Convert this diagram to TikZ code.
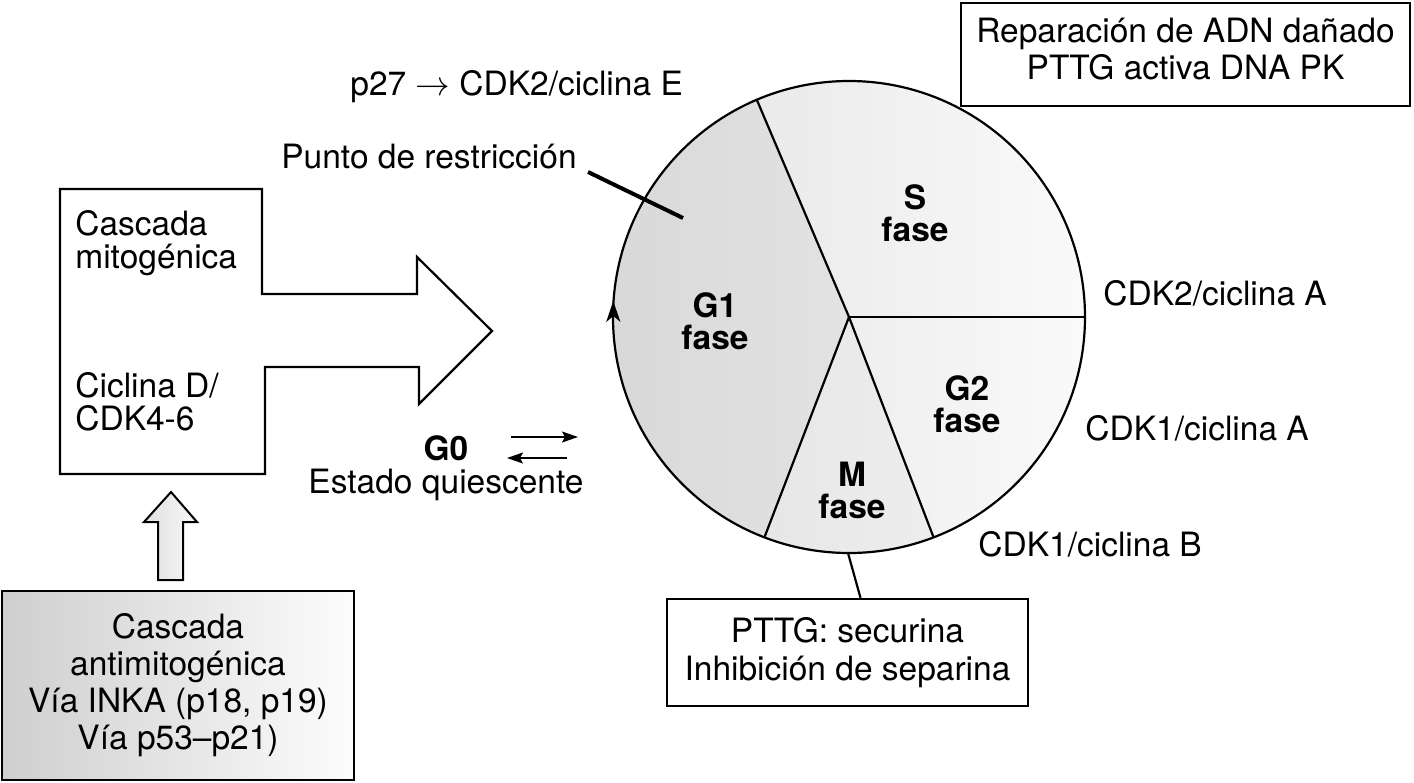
\documentclass[tikz,border=0pt]{standalone}
\usepackage{fontspec}
\setmainfont{TeX Gyre Heros}
\usetikzlibrary{arrows.meta}
\newcommand{\fsReg}{\fontsize{16.75pt}{18.5pt}\selectfont}
\newcommand{\fsTight}{\fontsize{16.75pt}{16.5pt}\selectfont}
\newcommand{\fsPhase}{\fontsize{16.75pt}{16pt}\selectfont\bfseries}
\newcommand{\fsGzero}{\fontsize{16.75pt}{16.5pt}\selectfont}
\begin{document}
\begin{tikzpicture}[x=0.5pt,y=-0.5pt,
  txt/.style={font=\fsReg, inner sep=0pt},
  phase/.style={font=\fsPhase, inner sep=0pt, align=center},
  ln/.style={line width=1.1pt, black},
  boxs/.style={draw, line width=1.1pt, inner sep=0pt},
  lightsec/.style={left color=gray!22, right color=gray!4},
  darksec/.style={left color=gray!30, right color=gray!15},
  smallarrow/.style={line width=0.8pt, -{Stealth[length=8pt,width=5.5pt,inset=1.5pt]}}
  ]
\useasboundingbox (0,0) rectangle (1414,782);

% ---- cycle sectors (fills) ----
\begin{scope}
  \clip (849,317) -- ++(111:236) arc[start angle=111,end angle=246.8,radius=236] -- cycle;
  \shade[darksec] (613,81) rectangle (1085,553);
\end{scope}
\begin{scope}
  \clip (849,317) -- ++(-113.2:236) arc[start angle=-113.2,end angle=0,radius=236] -- cycle;
  \shade[lightsec] (613,81) rectangle (1085,553);
\end{scope}
\begin{scope}
  \clip (849,317) -- ++(0:236) arc[start angle=0,end angle=69.2,radius=236] -- cycle;
  \shade[lightsec] (613,81) rectangle (1085,553);
\end{scope}
\begin{scope}
  \clip (849,317) -- ++(69.2:236) arc[start angle=69.2,end angle=111,radius=236] -- cycle;
  \shade[left color=gray!24, right color=gray!9] (613,81) rectangle (1085,553);
\end{scope}

% ---- cycle outline and dividers ----
\node[draw, circle, line width=1.1pt, minimum size=236pt, inner sep=0pt, outer sep=0pt] (cyc) at (849,317) {};
\draw[ln] (cyc.center) -- (cyc.113.2);
\draw[ln] (cyc.center) -- (cyc.0);
\draw[ln] (cyc.center) -- (cyc.-69.2);
\draw[ln] (cyc.center) -- (cyc.-111);
% direction arrowhead on the cycle
\fill[black] (613.2,301) -- (620.5,322) -- (613.4,316) -- (606.2,322) -- cycle;

% ---- phase labels ----
\node[phase] (sph) at (915,213.5) {S\\fase};
\node[phase] (g1ph) at (715,321) {G1\\fase};
\node[phase] (g2ph) at (967,404.5) {G2\\fase};
\node[phase] (mph) at (852,490.5) {M\\fase};

% ---- restriction point ----
\node[txt, anchor=base east] (rp) at (577,168) {Punto de restricción};
\coordinate (rpA) at (588,172);
\coordinate (rpB) at (683,218);
\draw[line width=2pt] (rpA) -- (rpB);

\node[txt, anchor=base west] (p27) at (350,95) {p27 $\rightarrow$ CDK2/ciclina E};

% ---- top right box ----
\node[boxs, minimum width=224.5pt, minimum height=51.5pt] (rep) at (1185.5,54.5) {};
\node[txt, align=center] (reptxt) at (1185.5,49) {Reparación de ADN dañado\\PTTG activa DNA PK};

% ---- CDK labels ----
\node[txt, anchor=base west] (cdk2a) at (1103,305) {CDK2/ciclina A};
\node[txt, anchor=base west] (cdk1a) at (1085,440) {CDK1/ciclina A};
\node[txt, anchor=base west] (cdk1b) at (978,556) {CDK1/ciclina B};

% ---- PTTG box ----
\node[boxs, minimum width=180.5pt, minimum height=53.5pt, font=\fontsize{16.75pt}{19pt}\selectfont, align=center] (pttg) at (847.5,652.5) {PTTG: securina\\Inhibición de separina};
\draw[ln] ([xshift=-0.5pt]cyc.south) -- ([xshift=6.5pt]pttg.north);

% ---- mitogenic box-arrow ----
\draw[ln, line join=miter] (60,189) -- (262,189) -- (262,294) -- (417,294) -- (417,257) -- (492,331) -- (419,404) -- (419,367) -- (265,367) -- (265,474) -- (60,474) -- cycle;
\node[font=\fsTight, inner sep=0pt, align=left, anchor=west] (mito) at (75,243) {Cascada\\mitogénica};
\node[font=\fsTight, inner sep=0pt, align=left, anchor=west] (cicd) at (75,402) {Ciclina D/\\CDK4-6};

% ---- G0 ----
\node[font=\fsGzero, inner sep=0pt, align=center] (g0) at (446,468.5) {\textbf{G0}\\Estado quiescente};
\coordinate (ga1) at (511,437);
\coordinate (ga2) at (578,437);
\coordinate (gb1) at (567,458);
\coordinate (gb2) at (507,458);
\draw[smallarrow] (ga1) -- (ga2);
\draw[smallarrow] (gb1) -- (gb2);

% ---- up arrow ----
\shadedraw[left color=gray!24, right color=gray!6, draw=black, line width=1pt, line join=miter]
  (158,580) -- (158,522) -- (144,522) -- (171,492) -- (197,522) -- (183,522) -- (183,580) -- cycle;

% ---- antimitogenic box ----
\node[boxs, minimum width=176pt, minimum height=94.5pt, left color=gray!38, right color=gray!2, font=\fsReg, align=center] (anti) at (178,685.5)
  {Cascada\\antimitogénica\\Vía INKA (p18, p19)\\Vía p53--p21)};
\end{tikzpicture}
\end{document}
